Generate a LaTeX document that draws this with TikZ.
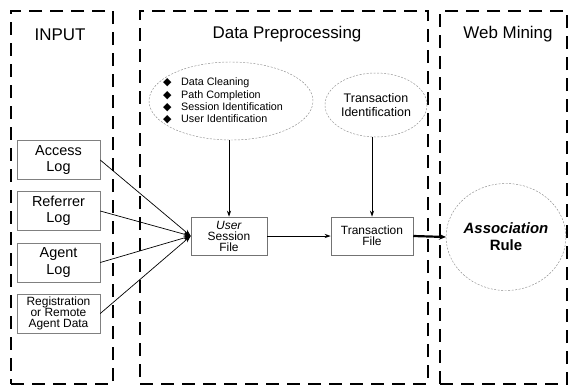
\documentclass[tikz,border=0pt]{standalone}
\usepackage{fontspec}
\setmainfont{Liberation Sans}
\newfontfamily\symfont{DejaVu Sans}
\usetikzlibrary{arrows.meta,shapes.geometric}
\newcommand\blt{\makebox[18bp][l]{\symfont\fontsize{11}{11}\selectfont ◆}}
\begin{document}
\begin{tikzpicture}[x=1bp,y=-1bp,
  region/.style={draw, line width=2.4bp, dash pattern=on 13bp off 8bp, inner sep=0pt},
  heading/.style={font=\fontsize{17}{19}\selectfont},
  srcbox/.style={draw=black!50, line width=0.5bp, minimum width=83bp, minimum height=39bp,
    inner sep=0pt, align=center, font=\fontsize{14.5}{16.5}\selectfont},
  filebox/.style={draw=black!55, line width=0.5bp, minimum height=38bp,
    inner sep=0pt, align=center, font=\fontsize{12}{11}\selectfont},
  faint/.style={draw=black!45, line width=0.45bp, dash pattern=on 2bp off 1.5bp, inner sep=0pt},
  feed/.style={line width=0.7bp, -{Stealth[length=7bp,width=5bp]}},
  flow/.style={line width=0.8bp, -{Stealth[length=6bp,width=4bp]}},
  bigflow/.style={line width=2.2bp, -{Stealth[length=7bp,width=6bp]}}
]
\useasboundingbox (0,0) rectangle (574,388);

% the three stages
\node[region, minimum width=102bp, minimum height=373bp] (inputreg) at (62,197.5) {};
\node[region, minimum width=288bp, minimum height=373bp] (prepreg) at (284,197.5) {};
\node[region, minimum width=127bp, minimum height=373bp] (minereg) at (503.5,197.5) {};

\node[heading] (inputlbl) at (60,35) {INPUT};
\node[heading] (preplbl) at (287,34) {Data Preprocessing};
\node[heading] (minelbl) at (508,34) {Web Mining};

% input sources
\node[srcbox] (access) at (58.5,160) {Access\\Log};
\node[srcbox] (referrer) at (58.5,211) {Referrer\\Log};
\node[srcbox] (agent) at (58.5,262.5) {Agent\\Log};
\node[srcbox, font=\fontsize{12}{11}\selectfont] (regdata) at (58.5,313.5)
  {Registration\\or Remote\\Agent Data};

% preprocessing
\node[faint, ellipse, minimum width=164bp, minimum height=78bp] (prep) at (231,101) {};
\node[anchor=west, align=left, inner sep=0pt, font=\fontsize{10.8}{12.5}\selectfont] (steps) at (163,101)
  {\blt Data Cleaning\\ \blt Path Completion\\ \blt Session Identification\\ \blt User Identification};
\node[faint, ellipse, minimum width=102bp, minimum height=64bp, align=center,
  font=\fontsize{12.5}{14.5}\selectfont] (tid) at (376,105) {Transaction\\Identification};

\node[filebox, minimum width=76bp] (usf) at (229,236) {\textit{User}\\Session\\File};
\node[filebox, minimum width=82bp] (tf) at (372,236) {Transaction\\File};

% mining
\node[faint, ellipse, minimum width=112bp, minimum height=107bp, align=center,
  font=\fontsize{15}{17}\selectfont\bfseries] (assoc) at (506,237) {\textit{Association}\\Rule};

% connectors
\foreach \src in {access,referrer,agent,regdata}
  \draw[feed] (\src.east) -- (usf.west);
\draw[flow] (usf.north |- prep.south) -- (usf.north);
\draw[flow] (tf.north |- tid.south) -- (tf.north);
\draw[flow] (usf.east) -- (tf.west);
\draw[bigflow] (tf.east) -- (assoc.west);
\end{tikzpicture}
\end{document}
